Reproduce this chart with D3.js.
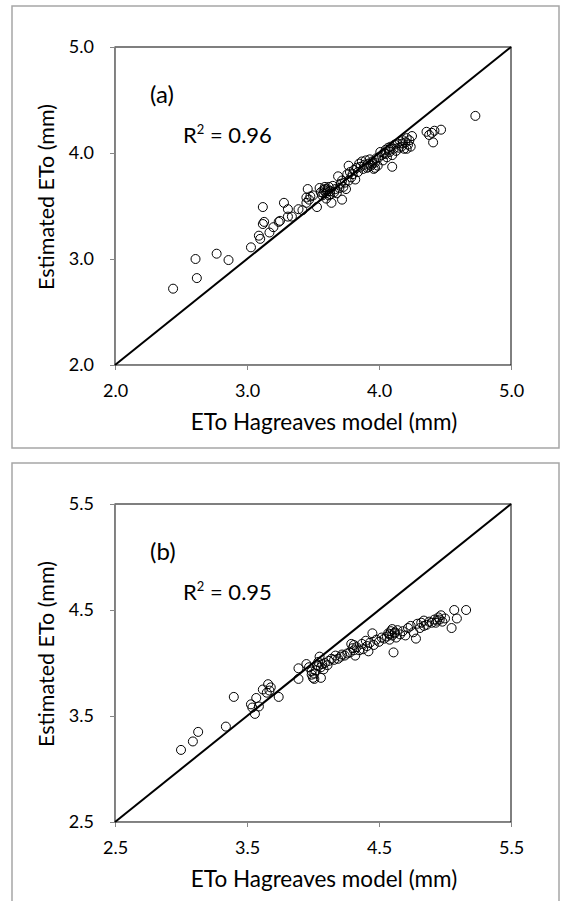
<!DOCTYPE html>
<html lang="en">
<head>
<meta charset="UTF-8">
<title>ETo scatter</title>
<script src="https://d3js.org/d3.v7.min.js"></script>
<style>
  body { margin: 0; background: #fff; }
  svg { display: block; font-family: Lato, "Open Sans", sans-serif; }
  .tick text { font-size: 18px; fill: #000; }
  .tick line, .domain { stroke: #868686; }
</style>
</head>
<body>
<script>
// panel (a)
var xA = [2.44,2.61,2.62,2.77,2.86,3.03,3.09,3.10,3.12,3.12,3.13,3.17,3.20,3.24,3.25,3.28,3.31,3.31,3.34,3.39,
  3.42,3.45,3.46,3.45,3.47,3.48,3.50,3.53,3.55,3.56,3.57,3.58,3.59,3.60,3.60,3.61,3.62,3.63,3.64,3.65,
  3.66,3.67,3.68,3.69,3.70,3.71,3.72,3.72,3.73,3.74,3.75,3.76,3.77,3.77,3.78,3.79,3.80,3.81,3.82,3.83,
  3.84,3.85,3.86,3.87,3.88,3.89,3.90,3.91,3.92,3.93,3.94,3.95,3.96,3.97,3.98,3.99,4.00,4.01,4.02,4.03,
  4.04,4.05,4.06,4.07,4.08,4.09,4.10,4.10,4.11,4.12,4.13,4.14,4.15,4.16,4.17,4.18,4.19,4.20,4.21,4.22,
  4.23,4.24,4.25,4.36,4.38,4.40,4.41,4.42,4.47,4.73,
  3.58,3.61,3.59,3.62,3.63,3.92,3.95,3.97,4.05,4.08,4.18,4.21];
var yA = [2.72,3.00,2.82,3.05,2.99,3.11,3.22,3.19,3.49,3.33,3.35,3.25,3.30,3.35,3.36,3.53,3.47,3.40,3.40,3.47,
  3.46,3.53,3.66,3.58,3.56,3.59,3.60,3.49,3.67,3.63,3.60,3.65,3.68,3.62,3.57,3.66,3.60,3.64,3.53,3.69,
  3.63,3.66,3.62,3.78,3.67,3.71,3.56,3.74,3.68,3.72,3.66,3.80,3.88,3.74,3.82,3.77,3.80,3.84,3.75,3.86,
  3.82,3.90,3.87,3.92,3.85,3.89,3.93,3.86,3.90,3.94,3.88,3.92,3.85,3.91,3.95,3.88,3.96,4.01,3.98,3.93,
  4.00,4.03,3.96,4.05,4.01,4.06,3.87,3.98,4.04,4.08,4.02,4.09,4.05,4.11,4.06,4.12,4.04,4.10,4.04,4.08,
  4.12,4.06,4.16,4.20,4.17,4.19,4.10,4.21,4.22,4.35,
  3.62,3.64,3.66,3.68,3.61,3.87,3.90,3.86,3.99,4.03,4.09,4.14];

// panel (b)
var xB = [3.00,3.09,3.13,3.34,3.40,3.53,3.54,3.56,3.57,3.59,3.62,3.65,3.66,3.67,3.68,3.74,3.89,3.89,3.95,3.97,
  3.99,3.99,4.00,4.01,4.02,4.03,4.04,4.05,4.06,4.06,4.07,4.08,4.09,4.11,4.12,4.14,4.16,4.17,4.19,4.21,
  4.22,4.24,4.26,4.28,4.30,4.31,4.32,4.33,4.35,4.37,4.38,4.40,4.41,4.42,4.43,4.45,4.46,4.48,4.50,4.52,
  4.54,4.56,4.57,4.58,4.59,4.60,4.61,4.62,4.63,4.64,4.66,4.68,4.70,4.72,4.74,4.76,4.78,4.79,4.81,4.82,
  4.84,4.86,4.88,4.90,4.92,4.94,4.95,4.97,4.98,5.00,5.05,5.07,5.09,5.16,
  4.01,4.04,4.29,4.31,4.58,4.60,4.62,4.84,4.93,4.96];
var yB = [3.18,3.26,3.35,3.40,3.68,3.61,3.58,3.52,3.67,3.59,3.75,3.72,3.80,3.74,3.77,3.68,3.85,3.95,3.99,3.96,
  3.92,3.89,3.86,3.85,3.93,3.98,4.01,4.06,3.86,3.96,3.99,3.94,4.00,3.98,4.02,4.04,4.03,4.07,4.04,4.06,
  4.08,4.07,4.09,4.10,4.14,4.17,4.07,4.15,4.12,4.18,4.13,4.21,4.16,4.11,4.19,4.28,4.17,4.22,4.20,4.24,
  4.23,4.25,4.28,4.22,4.30,4.26,4.10,4.29,4.24,4.31,4.27,4.30,4.26,4.33,4.35,4.29,4.23,4.37,4.33,4.38,
  4.40,4.36,4.39,4.38,4.41,4.40,4.43,4.45,4.39,4.42,4.33,4.50,4.42,4.50,
  3.90,3.97,4.18,4.12,4.27,4.32,4.28,4.35,4.38,4.41];

var panels = [
  { tag: "(a)", r2: "0.96", xs: xA, ys: yA, domain: [2, 5], ticks: [2, 3, 4, 5], top: 0 },
  { tag: "(b)", r2: "0.95", xs: xB, ys: yB, domain: [2.5, 5.5], ticks: [2.5, 3.5, 4.5, 5.5], top: 457 }
];

var width = 565, height = 901;
var svg = d3.select("body").append("svg")
  .attr("width", width)
  .attr("height", height);

var left = 115, right = 511, plotTop = 47, plotBottom = 365;

panels.forEach(function(p) {
  var g = svg.append("g").attr("transform", "translate(0," + p.top + ")");

  // outer frame
  g.append("rect")
    .attr("x", 12).attr("y", 6)
    .attr("width", 547).attr("height", 442)
    .attr("fill", "none")
    .attr("stroke", "#a6a6a6")
    .attr("stroke-width", 1.5);

  var x = d3.scaleLinear().domain(p.domain).range([left, right]);
  var y = d3.scaleLinear().domain(p.domain).range([plotBottom, plotTop]);

  g.append("rect")
    .attr("x", left).attr("y", plotTop)
    .attr("width", right - left).attr("height", plotBottom - plotTop)
    .attr("fill", "none")
    .attr("stroke", "#000")
    .attr("stroke-width", 1);

  g.append("g")
    .attr("transform", "translate(0," + plotBottom + ")")
    .call(d3.axisBottom(x).tickValues(p.ticks).tickFormat(d3.format(".1f")).tickSizeOuter(0).tickSize(5).tickPadding(14))
    .call(function(a) { a.attr("font-family", null).attr("font-size", null); });

  g.append("g")
    .attr("transform", "translate(" + left + ",0)")
    .call(d3.axisLeft(y).tickValues(p.ticks).tickFormat(d3.format(".1f")).tickSizeOuter(0).tickSize(5).tickPadding(16))
    .call(function(a) { a.attr("font-family", null).attr("font-size", null); });

  // 1:1 line
  g.append("line")
    .attr("x1", x(p.domain[0])).attr("y1", y(p.domain[0]))
    .attr("x2", x(p.domain[1])).attr("y2", y(p.domain[1]))
    .attr("stroke", "#000")
    .attr("stroke-width", 2);

  g.append("g").selectAll("circle")
    .data(p.xs.map(function(v, i) { return [v, p.ys[i]]; }))
    .enter().append("circle")
    .attr("cx", function(d) { return x(d[0]); })
    .attr("cy", function(d) { return y(d[1]); })
    .attr("r", 4.5)
    .attr("fill", "none")
    .attr("stroke", "#000")
    .attr("stroke-width", 1);

  g.append("text")
    .attr("x", 150).attr("y", 103)
    .attr("font-size", 24)
    .text(p.tag);

  var r = g.append("text")
    .attr("x", 183).attr("y", 143)
    .attr("font-size", 22);
  r.append("tspan").text("R");
  r.append("tspan").attr("font-size", 13).attr("dy", -9).text("2");
  r.append("tspan").attr("dy", 9).text(" = " + p.r2);

  g.append("text")
    .attr("x", 324).attr("y", 430)
    .attr("text-anchor", "middle")
    .attr("font-size", 22.5)
    .text("ETo Hagreaves model (mm)");

  g.append("text")
    .attr("transform", "translate(54," + 197 + ") rotate(-90)")
    .attr("text-anchor", "middle")
    .attr("font-size", 21.5)
    .text("Estimated ETo (mm)");
});
</script>
</body>
</html>
